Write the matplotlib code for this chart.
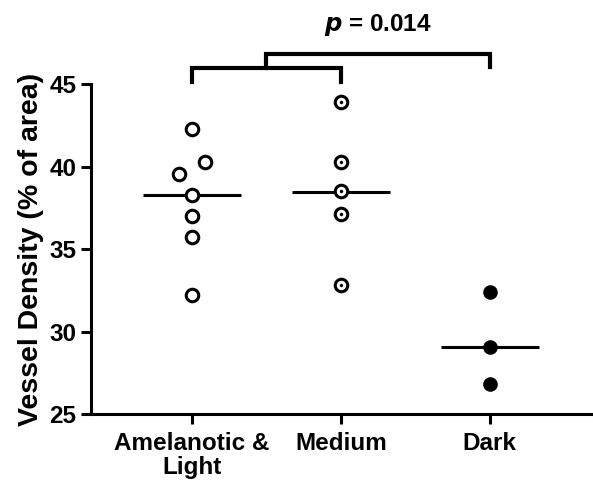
import matplotlib
matplotlib.use("Agg")
import matplotlib.pyplot as plt
import numpy as np

plt.rcParams['font.family'] = ['Liberation Sans', 'DejaVu Sans']
plt.rcParams['font.weight'] = 'bold'

categories = ["Amelanotic &\nLight", "Medium", "Dark"]
amel_vals = [42.3, 40.25, 39.55, 38.25, 37.0, 35.75, 32.2]
amel_offsets = [0.0, 0.09, -0.09, 0.0, 0.0, 0.0, 0.0]
medium_vals = [43.9, 40.3, 38.5, 37.1, 32.8]
dark_vals = [32.4, 29.05, 26.8]
medians = [38.25, 38.45, 29.05]
yticks = [25, 30, 35, 40, 45]
p_text = "= 0.014"

fig = plt.figure(figsize=(5.93, 4.83), dpi=100)
ax = fig.add_axes([91/593, 69/483, 500/593, 330/483])

xa = [0 + o for o in amel_offsets]
ax.plot(xa, amel_vals, 'o', ms=9, mfc='white', mec='black', mew=2.2, clip_on=False, zorder=3)
xm = [1] * len(medium_vals)
ax.plot(xm, medium_vals, 'o', ms=9, mfc='white', mec='black', mew=2.2, clip_on=False, zorder=3)
ax.plot(xm, medium_vals, 'o', ms=2.5, mfc='black', mec='black', mew=0, clip_on=False, zorder=4)
xd = [2] * len(dark_vals)
ax.plot(xd, dark_vals, 'o', ms=10.5, mfc='black', mec='black', mew=0, clip_on=False, zorder=3)

for i, m in enumerate(medians):
    ax.plot([i - 0.33, i + 0.33], [m, m], color='black', lw=2.2, zorder=2, solid_capstyle='butt')

ax.set_xlim(-0.678, 2.68)
ax.set_ylim(25, 45)
ax.set_yticks(yticks)
ax.set_xticks(range(len(categories)))
ax.set_xticklabels(categories, fontsize=17.5, fontweight='bold', linespacing=1.05)
ax.tick_params(axis='y', labelsize=17.5, width=2.2, length=7, direction='out')
ax.tick_params(axis='x', width=2.2, length=7, direction='out', pad=6)
for lab in ax.get_yticklabels():
    lab.set_fontweight('bold')
for s in ['top', 'right']:
    ax.spines[s].set_visible(False)
for s in ['left', 'bottom']:
    ax.spines[s].set_linewidth(2.2)
ax.set_ylabel("Vessel Density (% of area)", fontsize=20.5, fontweight='bold', labelpad=4)

# brackets
lw_b = 3.0
y_low, y_low_t = 45.97, 45.12
ax.plot([0, 0, 1, 1], [y_low_t, y_low, y_low, y_low_t], color='black', lw=lw_b, clip_on=False, solid_joinstyle='miter')
y_up, y_up_t = 46.8, 46.02
ax.plot([0.5, 0.5, 2, 2], [y_low, y_up, y_up, y_up_t], color='black', lw=lw_b, clip_on=False, solid_joinstyle='miter')
ax.text(1.25, 47.8, r"$\bfit{p}$ " + p_text, ha='center', va='bottom', fontsize=17.5, fontweight='bold')

fig.savefig("out.png", dpi=100)
